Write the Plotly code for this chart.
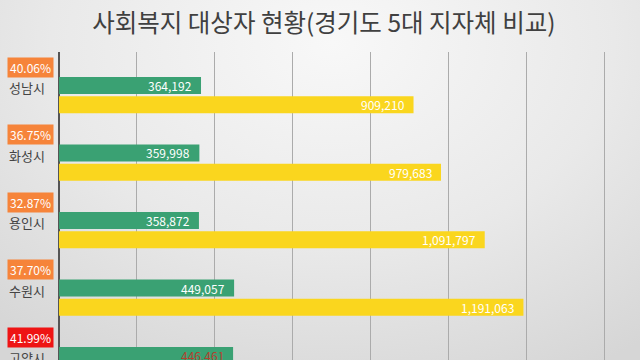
import base64
import plotly.graph_objects as go

cities = ["성남시", "화성시", "용인시", "수원시", "고양시"]
welfare_recipients = [364192, 359998, 358872, 449057, 446461]
comparison_total = [909210, 979683, 1091797, 1191063, 1063255]
ratio_labels = ["40.06%", "36.75%", "32.87%", "37.70%", "41.99%"]
ratio_colors = ["#f6843a", "#f6843a", "#f6843a", "#f6843a", "#ee1414"]
green_text_colors = ["white", "white", "white", "white", "#b5402e"]

GREEN = "#3aa173"
YELLOW = "#fad61e"
FONT = "Noto Sans CJK KR"

Y_TOP, Y_BOT = -0.638, 3.924

fig = go.Figure()
fig.add_trace(go.Bar(
    y=cities, x=welfare_recipients, orientation="h",
    marker=dict(color=GREEN, line=dict(width=0)), hoverinfo="skip",
))
fig.add_trace(go.Bar(
    y=cities, x=comparison_total, orientation="h",
    marker=dict(color=YELLOW, line=dict(width=0)), hoverinfo="skip",
))

annotations = []
for i, (c, r, rc) in enumerate(zip(cities, ratio_labels, ratio_colors)):
    yp = (Y_BOT - i) / (Y_BOT - Y_TOP)
    annotations.append(dict(
        xref="paper", yref="paper", x=0, y=yp, xanchor="left", yanchor="middle",
        xshift=-52, yshift=7.5, text=c, showarrow=False,
        font=dict(size=13, color="#444444", family=FONT),
    ))
    annotations.append(dict(
        xref="paper", yref="paper", x=0, y=yp, xanchor="center", yanchor="middle",
        xshift=-28.5, yshift=28, text=r, showarrow=False,
        bgcolor=rc, width=45, height=19, borderpad=0,
        font=dict(size=12, color="white", family=FONT),
    ))
    annotations.append(dict(
        xref="x", yref="paper", x=welfare_recipients[i], y=yp, xanchor="right", yanchor="middle",
        xshift=-7, yshift=9.6, text=f"{welfare_recipients[i]:,}", showarrow=False,
        font=dict(size=12, color=green_text_colors[i], family=FONT),
    ))
    annotations.append(dict(
        xref="x", yref="paper", x=comparison_total[i], y=yp, xanchor="right", yanchor="middle",
        xshift=-7, yshift=-9.6, text=f"{comparison_total[i]:,}", showarrow=False,
        font=dict(size=12, color="white", family=FONT),
    ))

svg = ('<svg xmlns="http://www.w3.org/2000/svg" width="640" height="360" preserveAspectRatio="none">'
       '<defs><radialGradient id="g" cx="0.52" cy="0.12" r="0.8" gradientTransform="translate(0.52 0.12) scale(1 1.3) translate(-0.52 -0.12)">'
       '<stop offset="0" stop-color="#f8f8f8"/><stop offset="0.55" stop-color="#e9e9e9"/>'
       '<stop offset="1" stop-color="#d6d6d6"/></radialGradient></defs>'
       '<rect width="640" height="360" fill="url(#g)"/></svg>')
src = "data:image/svg+xml;base64," + base64.b64encode(svg.encode()).decode()

L, R, T, B = 59, 0, 52, 0
pw, ph = 640 - L - R, 360 - T - B

fig.update_layout(
    width=640, height=360,
    margin=dict(l=L, r=R, t=T, b=B, pad=0),
    paper_bgcolor="rgba(0,0,0,0)", plot_bgcolor="rgba(0,0,0,0)",
    barmode="group", bargap=0.431, bargroupgap=0.11,
    showlegend=False,
    title=dict(text="사회복지 대상자 현황(경기도 5대 지자체 비교)", x=0.506, xref="container", xanchor="center",
               y=0.935, yref="container", yanchor="middle",
               font=dict(size=24.5, color="#404040", family=FONT)),
    xaxis=dict(range=[0, 1490000], dtick=200000, showgrid=True, gridcolor="#ababab", gridwidth=1,
               showticklabels=False, zeroline=True, zerolinecolor="#555555", zerolinewidth=2,
               showline=False, ticks="", fixedrange=True),
    yaxis=dict(type="category", categoryorder="array", categoryarray=cities,
               range=[Y_BOT, Y_TOP], showticklabels=False, showgrid=False, zeroline=False,
               showline=False, ticks="", fixedrange=True),
    annotations=annotations,
    images=[dict(source=src, xref="paper", yref="paper", x=-L / pw, y=1 + T / ph,
                 sizex=640 / pw, sizey=360 / ph, xanchor="left", yanchor="top",
                 sizing="stretch", layer="below")],
    font=dict(family=FONT),
)

fig.write_html("out.html", config={"displayModeBar": False},
               post_script="document.body.style.margin='0';document.body.style.overflow='hidden';")
